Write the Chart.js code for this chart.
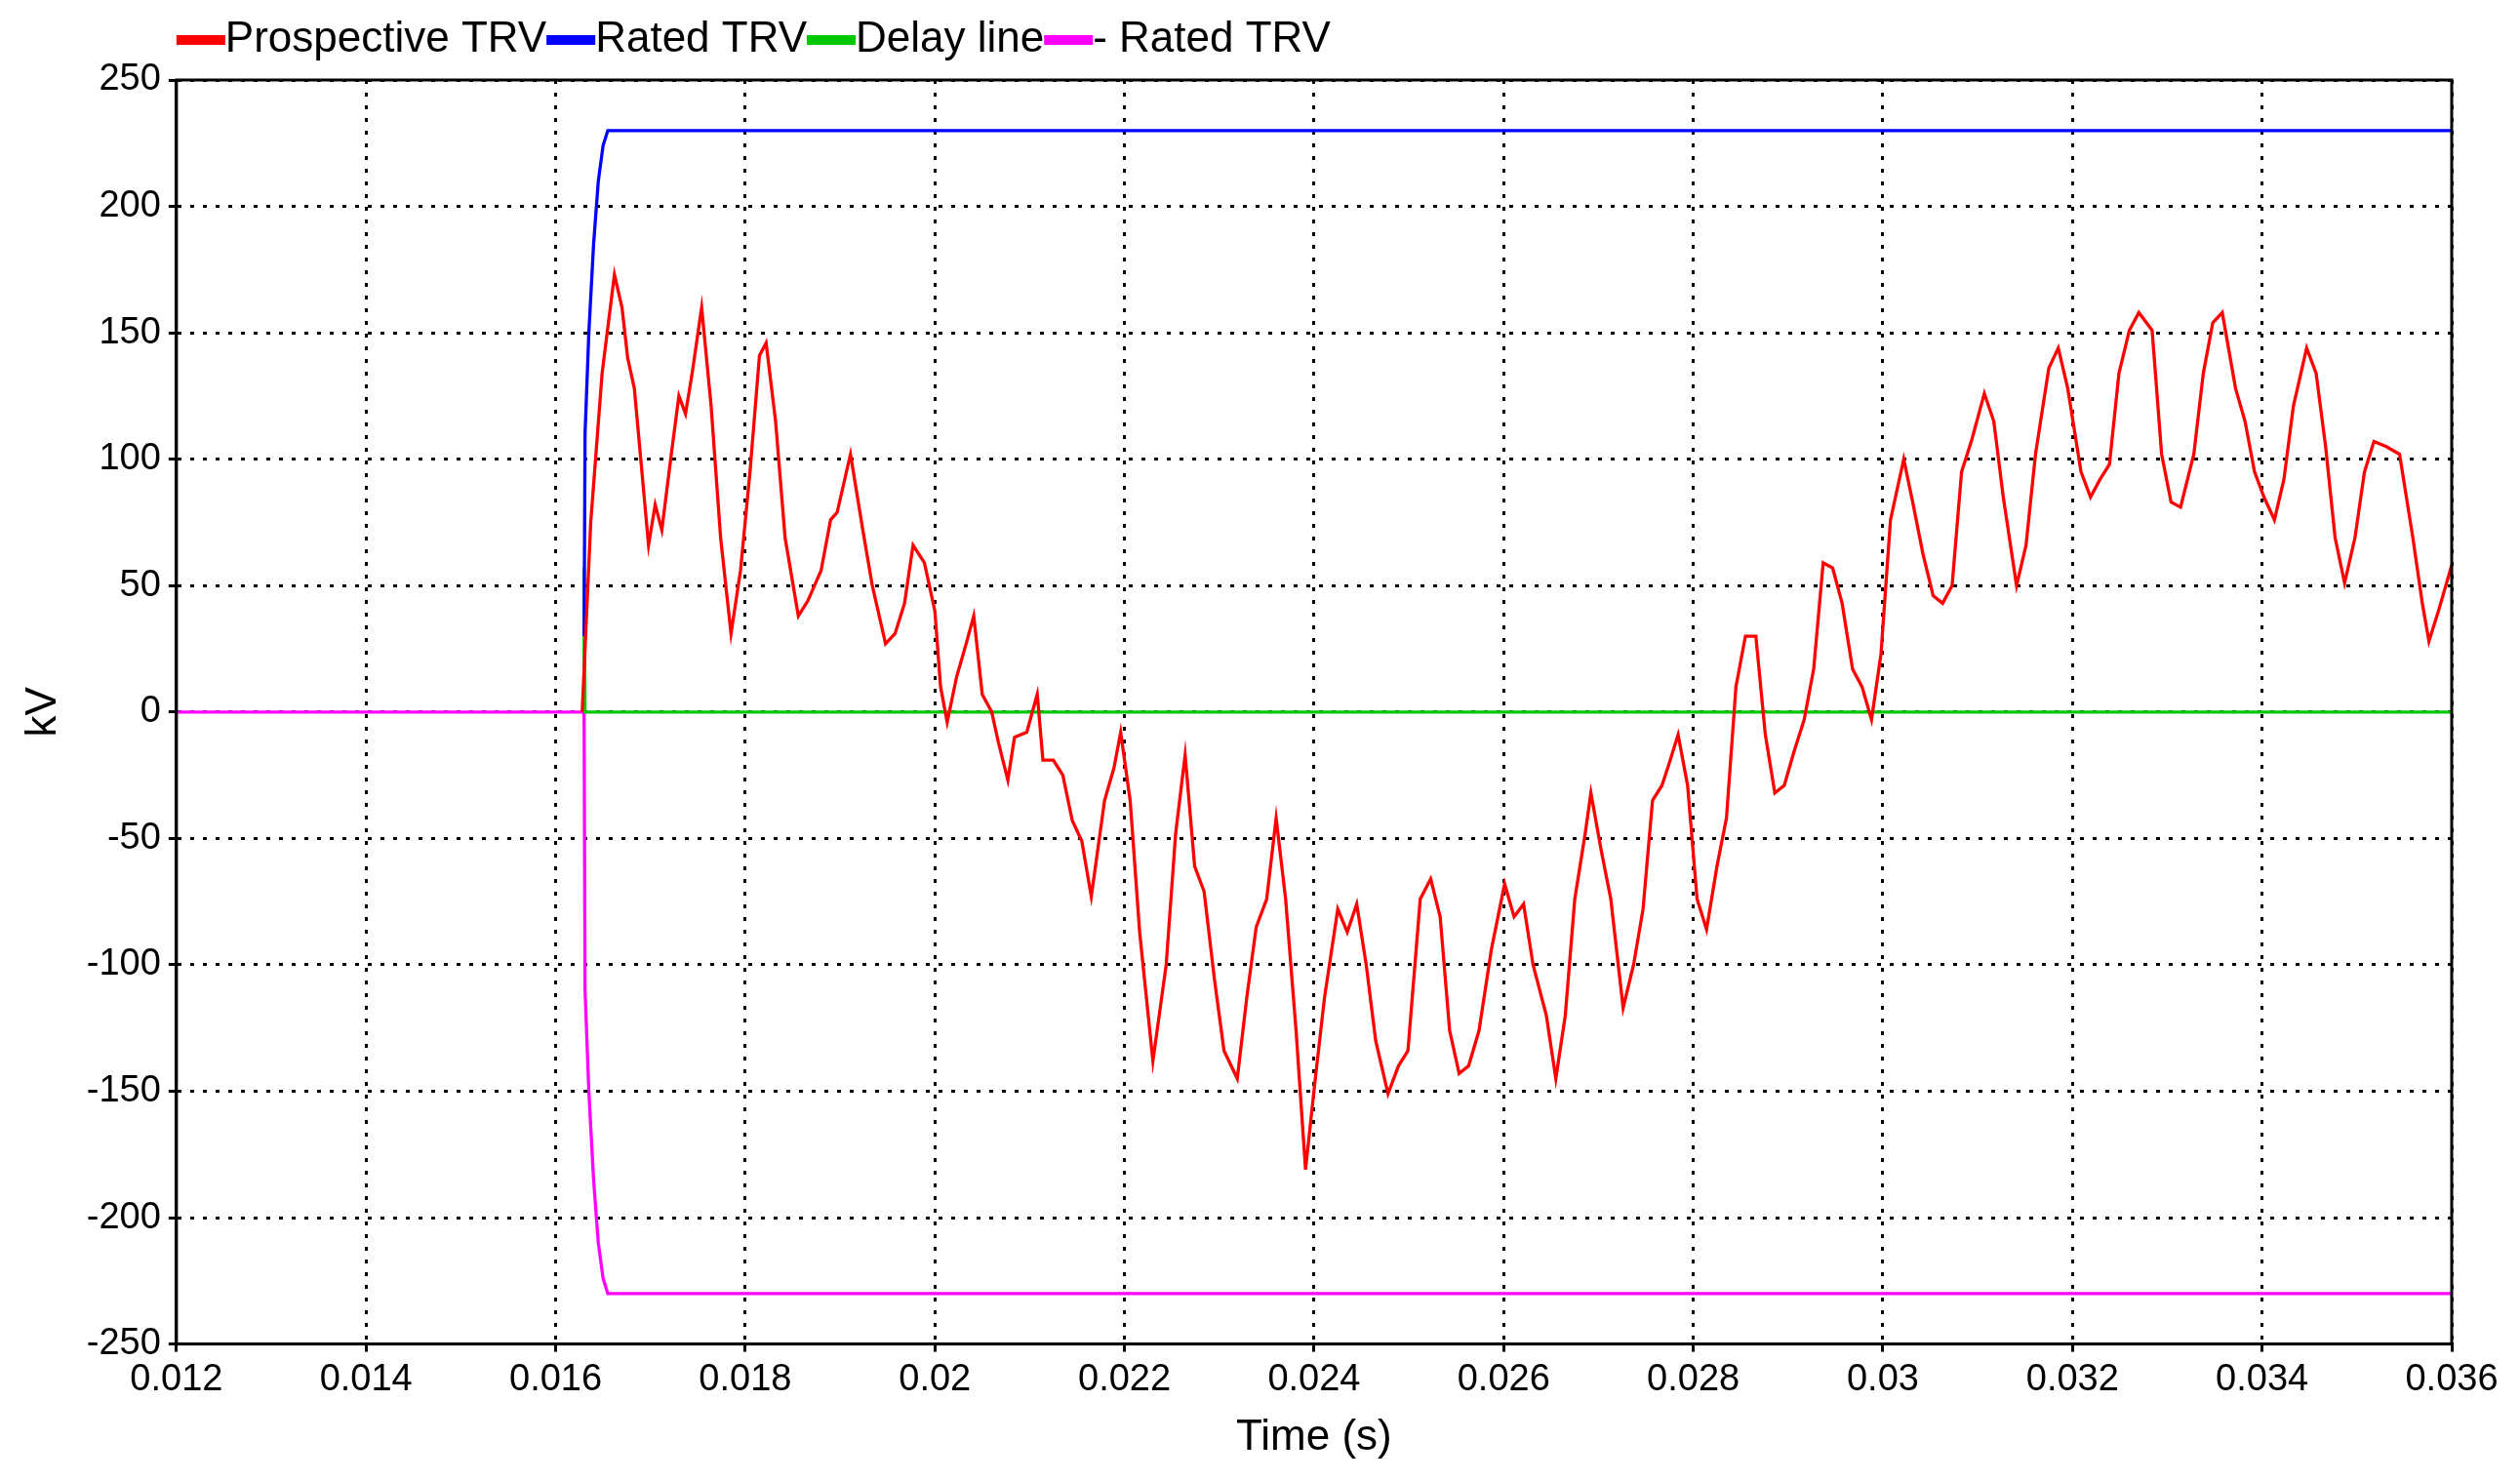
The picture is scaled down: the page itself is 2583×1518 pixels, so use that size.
<!DOCTYPE html>
<html><head><meta charset="utf-8">
<script src="https://cdn.jsdelivr.net/npm/chart.js@4"></script>
<style>html,body{margin:0;padding:0;background:#fff}canvas{display:block}</style>
</head><body>
<canvas id="c" width="2583" height="1518"></canvas>
<script>
const prospectiveT=[0.01628,0.01637,0.01649,0.01662,0.0167,0.01676,0.01683,0.01691,0.01698,0.01705,0.01712,0.01722,0.0173,0.01737,0.01744,0.01754,0.01764,0.01774,0.01785,0.01795,0.01805,0.01815,0.01822,0.01832,0.01842,0.01856,0.01866,0.0188,0.0189,0.01897,0.01911,0.01924,0.01934,0.01948,0.01958,0.01968,0.01977,0.01989,0.02,0.02006,0.02013,0.02023,0.02033,0.02041,0.0205,0.0206,0.02067,0.02077,0.02084,0.02097,0.02108,0.02114,0.02125,0.02135,0.02145,0.02155,0.02165,0.02179,0.02189,0.02196,0.02206,0.02216,0.0223,0.02244,0.02254,0.02264,0.02274,0.02284,0.02295,0.02305,0.02319,0.02329,0.02339,0.0235,0.0236,0.0237,0.02381,0.02391,0.02401,0.02411,0.02425,0.02435,0.02445,0.02455,0.02465,0.02478,0.02489,0.02499,0.02512,0.02523,0.02533,0.02543,0.02553,0.02563,0.02574,0.02587,0.02601,0.02611,0.02621,0.02631,0.02645,0.02655,0.02665,0.02675,0.02686,0.02692,0.02703,0.02713,0.02726,0.02737,0.02747,0.02757,0.02767,0.02774,0.02784,0.02794,0.02804,0.02814,0.02825,0.02835,0.02845,0.02855,0.02866,0.02876,0.02886,0.02896,0.02906,0.02917,0.02927,0.02937,0.02947,0.02957,0.02968,0.02978,0.02988,0.02998,0.03008,0.03022,0.03032,0.03042,0.03053,0.03063,0.03073,0.03083,0.03094,0.03107,0.03117,0.03127,0.03141,0.03151,0.03161,0.03175,0.03185,0.03195,0.03209,0.03219,0.03229,0.03239,0.03249,0.0326,0.0327,0.03284,0.03294,0.03304,0.03314,0.03328,0.03338,0.03348,0.03358,0.03372,0.03382,0.03392,0.03402,0.03413,0.03423,0.03433,0.03447,0.03457,0.03467,0.03477,0.03487,0.03498,0.03508,0.03518,0.03531,0.03545,0.03559,0.03569,0.03576,0.03586,0.036];
const prospectiveV=[0,75,134,173,160,140,128,95,66,82,72,102,125,118,134,160,121,69,31,56,95,141,146,115,69,38,44,56,76,79,102,72,50,27,31,43,66,59,40,10,-4,14,27,38,7,0,-12,-27,-10,-8,7,-19,-19,-25,-43,-51,-73,-35,-22,-8,-35,-87,-138,-100,-48,-17,-61,-71,-106,-134,-145,-113,-85,-74,-42,-74,-126,-181,-146,-113,-78,-87,-76,-100,-130,-151,-140,-134,-74,-66,-81,-126,-143,-140,-126,-94,-68,-81,-76,-100,-120,-145,-120,-74,-48,-32,-55,-74,-117,-100,-78,-35,-29,-21,-9,-29,-74,-86,-61,-42,10,30,30,-9,-32,-29,-16,-3,17,59,57,43,17,10,-3,23,76,100,82,63,46,43,50,95,108,126,115,85,50,66,102,136,144,128,95,85,92,98,134,151,158,151,102,83,81,102,134,154,158,128,115,95,85,76,92,121,144,134,105,69,51,69,95,107,105,102,69,43,28,40,58];
const ratedT=[0.0163,0.01631,0.01635,0.0164,0.01645,0.0165,0.01655,0.036];
const ratedV=[30,110,150,185,210,224,230,230];
const delayT=[0.0163,0.0163,0.01631,0.036];
const delayV=[0,57,0,0];
const negRatedT=[0.012,0.0163,0.01631,0.01635,0.0164,0.01645,0.0165,0.01655,0.036];
const negRatedV=[0,0,-110,-150,-185,-210,-224,-230,-230];
const seriesNames=["Prospective TRV","Rated TRV","Delay line","- Rated TRV"];
const seriesColors=["#ff0000","#0000ff","#00c800","#ff00ff"];
const xTicks=[0.012,0.014,0.016,0.018,0.02,0.022,0.024,0.026,0.028,0.03,0.032,0.034,0.036];

const pts=(t,v)=>t.map((x,i)=>({x:x,y:v[i]}));
const data=[pts(prospectiveT,prospectiveV),pts(ratedT,ratedV),pts(delayT,delayV),pts(negRatedT,negRatedV)];
const F="'Liberation Sans', Arial, sans-serif";
new Chart(document.getElementById('c'),{
 type:'line',
 data:{datasets:seriesNames.map((n,i)=>({label:n,data:data[i],borderColor:seriesColors[i],backgroundColor:seriesColors[i],borderWidth:3.3,pointRadius:0,tension:0,fill:false}))},
 options:{responsive:false,animation:false,
  layout:{padding:{left:14,right:70,top:82,bottom:14}},
  plugins:{tooltip:{enabled:false},legend:{display:false}},
  scales:{
   x:{type:'linear',min:0.012,max:0.036,
    afterBuildTicks:(s)=>{s.ticks=xTicks.map(v=>({value:v}));},
    ticks:{font:{family:F,size:38},color:'#000',maxRotation:0,padding:6,callback:(v)=>String(parseFloat(v.toFixed(4)))},
    grid:{color:'#000',lineWidth:3,tickLength:8,drawOnChartArea:true},
    border:{display:true,color:'#000',width:3,dash:[4,9]},
    title:{display:true,text:'Time (s)',font:{family:F,size:44},color:'#000',padding:{top:4}}},
   y:{min:-250,max:250,
    ticks:{stepSize:50,font:{family:F,size:38},color:'#000',padding:8},
    grid:{color:'#000',lineWidth:3,tickLength:8},
    border:{display:true,color:'#000',width:3,dash:[4,9]},
    title:{display:true,text:'kV',font:{family:F,size:44},color:'#000',padding:{bottom:10}}}
  }},
 plugins:[{id:'frame',afterDraw(ch){const a=ch.chartArea,c=ch.ctx;c.save();c.strokeStyle='#000';c.lineWidth=3;c.setLineDash([]);c.strokeRect(a.left,a.top,a.right-a.left,a.bottom-a.top);
  c.font="44px "+F;c.textBaseline='middle';let x=a.left;const y=41;
  seriesNames.forEach((n,i)=>{c.fillStyle=seriesColors[i];c.fillRect(x,y-5,50,10);x+=50;c.fillStyle='#000';c.fillText(n,x,y);x+=c.measureText(n).width;});
  c.restore();}}]
});
</script>
</body></html>
